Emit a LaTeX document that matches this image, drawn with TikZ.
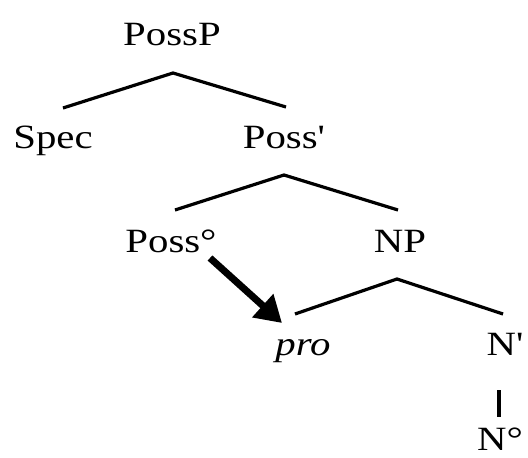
\documentclass[tikz,border=0pt]{standalone}
\usepackage{fontspec}
\setmainfont{Liberation Serif}[Ligatures=TeXOff]
\usetikzlibrary{arrows.meta, positioning, calc}
\newcommand{\widetext}[1]{\scalebox{1.2}[1]{#1}}

\begin{document}
\begin{tikzpicture}
            [x=1pt, y=-1pt,
            cat/.style={anchor=base, inner sep=0pt, font=\fontsize{34}{40}\selectfont},
            branch/.style={line width=3.2pt},
            move/.style={line width=7pt, -{Triangle[length=26pt, width=30pt]}}]

            \useasboundingbox (0,0) rectangle (528,458);

            \node[cat] (possp) at (172,45) {\widetext{PossP}};
            \node[cat] (spec) at (53,148) {\widetext{Spec}};
            \node[cat] (possbar) at (284,148) {\widetext{Poss'}};
            \node[cat] (posshead) at (171,252) {\widetext{Poss°}};
            \node[cat] (np) at (400,252) {\widetext{NP}};
            \node[cat] (pro) at (303,355) {\widetext{\itshape pro}};
            \node[cat] (nbar) at (505,355) {\widetext{N'}};
            \node[cat] (nhead) at (500,450) {\widetext{N°}};

            \draw[branch] ([xshift=10pt,yshift=40pt]spec.base) -- ([xshift=1pt,yshift=-28pt]possp.base) -- ([xshift=2pt,yshift=41pt]possbar.base);
            \draw[branch] ([xshift=4pt,yshift=42pt]posshead.base) -- ([yshift=-27pt]possbar.base) -- ([xshift=-2pt,yshift=42pt]np.base);
            \draw[branch] ([xshift=-8pt,yshift=41pt]pro.base) -- ([xshift=-3pt,yshift=-27pt]np.base) -- ([xshift=-2pt,yshift=41pt]nbar.base);
            \draw[branch, line width=3.8pt] ([xshift=-6pt,yshift=-35pt]nbar.base) -- ([xshift=-1pt,yshift=33pt]nhead.base);

            \draw[move] ([xshift=39pt,yshift=-6pt]posshead.base) -- ([xshift=-21pt,yshift=32pt]pro.base);

        \end{tikzpicture}
\end{document}
